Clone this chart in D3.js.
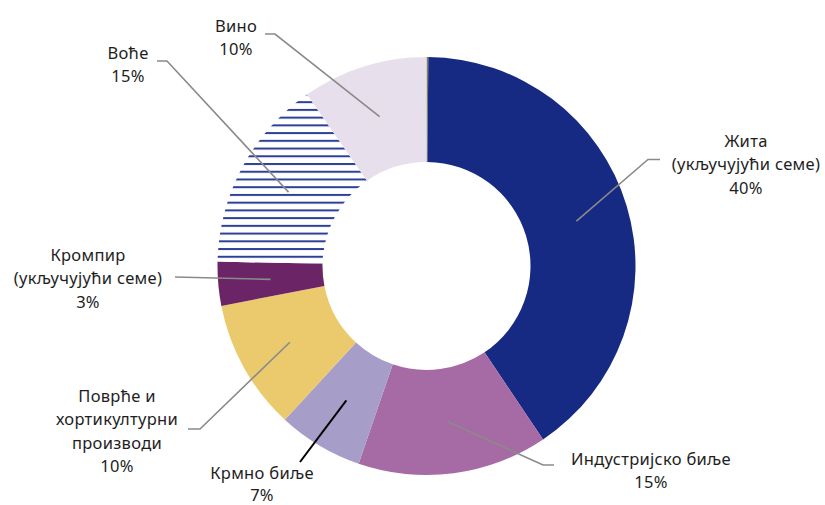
<!DOCTYPE html>
<html><head><meta charset="utf-8">
<script src="https://cdn.jsdelivr.net/npm/d3@7"></script>
<style>
html,body{margin:0;padding:0;background:#fff;}
svg{display:block;}
text{font-family:"Noto Sans",sans-serif;fill:#1e1e1e;}
</style></head>
<body>
<svg id="chart" width="825" height="505"></svg>
<script>
// ---- data ----
const categories = ["", "Жита", "Индустријско биље", "Крмно биље", "Поврће и хортикултурни производи", "Кромпир", "Воће", "Вино"];
const values = [0.14, 40.5, 14.7, 6.6, 10.1, 3.4, 15.0, 9.7];
const labelLines = [
  null,
  ["Жита", "(укључујући семе)", "40%"],
  ["Индустријско биље", "15%"],
  ["Крмно биље", "7%"],
  ["Поврће и", "хортикултурни", "производи", "10%"],
  ["Кромпир", "(укључујући семе)", "3%"],
  ["Воће", "15%"],
  ["Вино", "10%"]
];

// ---- styles / layout ----
const colors = ["#7b8060", "#172a83", "#a66aa4", "#a69ec9", "#ebca6e", "#6b2566", "url(#stripes)", "#e8dfec"];
const cx = 426.5, cy = 266, rOuter = 209, rInner = 104;
// label anchor: text center x, first-line center y, elbow points for leader
const layout = [
  null,
  {x: 746, y: 141, path: [[660, 159.5], [648, 159.5]], color: "#8a8a8a", lh: 23.4},
  {x: 651, y: 459, path: [[554, 465], [543, 465]], color: "#8a8a8a", lh: 23.4},
  {x: 262, y: 473, path: [[300, 462]], color: "#000", lh: 22},
  {x: 117, y: 396, path: [[188, 429], [200, 429]], color: "#8a8a8a", lh: 23.4},
  {x: 88, y: 255, path: [[175, 277]], color: "#8a8a8a", lh: 23.4},
  {x: 128, y: 53, path: [[157, 61], [167, 61]], color: "#8a8a8a", lh: 23.4},
  {x: 236, y: 26, path: [[265, 34], [275, 34]], color: "#8a8a8a", lh: 23.4}
];
const fontSize = 16.5;

const svg = d3.select("#chart");
const defs = svg.append("defs");
const pat = defs.append("pattern").attr("id", "stripes")
  .attr("patternUnits", "userSpaceOnUse")
  .attr("width", 20).attr("height", 7.73)
  .attr("y", 99 - 1);
pat.append("rect").attr("width", 20).attr("height", 7.73).attr("fill", "#fff");
pat.append("rect").attr("y", 0).attr("width", 20).attr("height", 2).attr("fill", "#2e3f97");

const pie = d3.pie().sort(null).value(d => d).startAngle(0).endAngle(2 * Math.PI);
const arcs = pie(values);
const arc = d3.arc().innerRadius(rInner).outerRadius(rOuter);
const arcMid = d3.arc().innerRadius((rInner + rOuter) / 2).outerRadius((rInner + rOuter) / 2);

const g = svg.append("g").attr("transform", `translate(${cx},${cy})`);
g.selectAll("path.slice").data(arcs).join("path")
  .attr("class", "slice")
  .attr("d", arc)
  .attr("fill", (d, i) => colors[i]);

// leader lines
arcs.forEach((d, i) => {
  const L = layout[i];
  if (!L) return;
  const c = arcMid.centroid(d);
  const pts = [[c[0] + cx, c[1] + cy]].concat(L.path.slice().reverse());
  svg.append("path")
    .attr("d", d3.line()(pts))
    .attr("fill", "none")
    .attr("stroke", L.color)
    .attr("stroke-width", i === 3 ? 2 : 1.6);
});

// labels
arcs.forEach((d, i) => {
  const L = layout[i];
  if (!L) return;
  const t = svg.append("text")
    .attr("text-anchor", "middle")
    .attr("font-size", fontSize)
    .attr("letter-spacing", 0.3);
  labelLines[i].forEach((s, k) => {
    t.append("tspan").attr("x", L.x).attr("y", L.y + k * L.lh + fontSize * 0.36).text(s);
  });
});
</script>
</body></html>
